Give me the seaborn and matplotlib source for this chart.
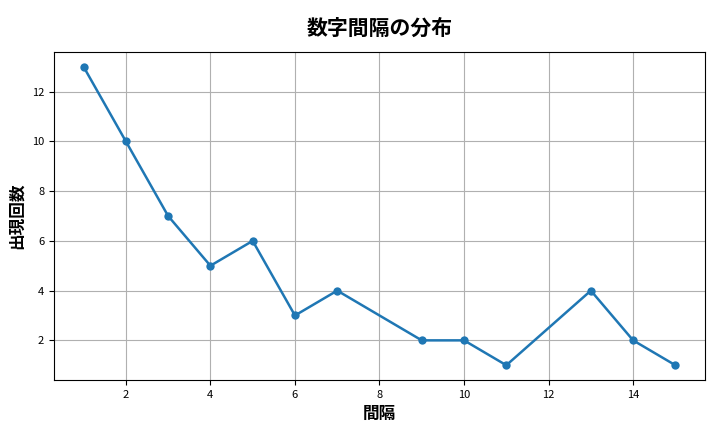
import matplotlib
matplotlib.use("Agg")
import matplotlib.pyplot as plt
import pandas as pd
import seaborn as sns

intervals = [1, 2, 3, 4, 5, 6, 7, 9, 10, 11, 13, 14, 15]
counts = [13, 10, 7, 5, 6, 3, 4, 2, 2, 1, 4, 2, 1]

sns.set_style("ticks")
plt.rcParams['font.family'] = ['Noto Sans CJK JP', 'DejaVu Sans']
plt.rcParams['text.color'] = 'black'
plt.rcParams['axes.labelcolor'] = 'black'
plt.rcParams['xtick.color'] = 'black'
plt.rcParams['ytick.color'] = 'black'

df = pd.DataFrame({"interval": intervals, "count": counts})

fig, ax = plt.subplots(figsize=(7.2, 4.32), dpi=100)
sns.lineplot(data=df, x="interval", y="count", marker="o", markersize=6,
             markeredgewidth=0, linewidth=1.8, color="#1f77b4", ax=ax)
ax.grid(True, color="#b0b0b0", linewidth=0.8)
for s in ax.spines.values():
    s.set_color("black")
ax.set_title("数字間隔の分布", fontsize=15, fontweight="bold", pad=12)
ax.set_xlabel("間隔", fontsize=12, fontweight="bold")
ax.set_ylabel("出現回数", fontsize=12, fontweight="bold")
ax.tick_params(labelsize=8)
fig.tight_layout()
fig.subplots_adjust(left=0.075, bottom=0.12, top=0.88)
fig.savefig("out.png")
